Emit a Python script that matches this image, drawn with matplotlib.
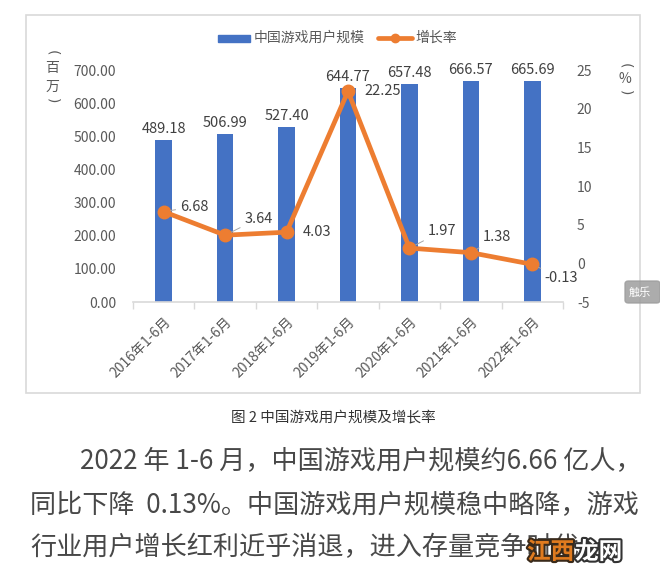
import matplotlib
matplotlib.use("Agg")
import matplotlib.pyplot as plt
from matplotlib.patches import Rectangle, FancyBboxPatch
from matplotlib.lines import Line2D
import matplotlib.patheffects as pe

plt.rcParams['font.family'] = ['Noto Sans CJK SC', 'DejaVu Sans']

categories = ["2016年1-6月", "2017年1-6月", "2018年1-6月", "2019年1-6月",
              "2020年1-6月", "2021年1-6月", "2022年1-6月"]
users = [489.18, 506.99, 527.40, 644.77, 657.48, 666.57, 665.69]
growth = [6.68, 3.64, 4.03, 22.25, 1.97, 1.38, -0.13]
left_ticks = [0, 100, 200, 300, 400, 500, 600, 700]
right_ticks = [-5, 0, 5, 10, 15, 20, 25]
caption = "图 2 中国游戏用户规模及增长率"
para_lines = ["2022 年 1-6 月，中国游戏用户规模约6.66 亿人，",
              "同比下降  0.13%。中国游戏用户规模稳中略降，游戏",
              "行业用户增长红利近乎消退，进入存量竞争时代"]

# label offsets (points) for growth labels
growth_label_offsets = [(11.5, 3.6), (13.7, 12), (11.5, 0), (11.5, 0), (13, 12), (8.6, 11), (9, -10)]
growth_leader = [True, True, False, False, True, True, True]

W, H = 660, 582
fig = plt.figure(figsize=(W/100, H/100), dpi=100)
fig.patch.set_facecolor('white')

def fx(x): return x / W
def fy(y): return 1 - y / H

# chart frame
fig.patches.append(Rectangle((fx(26), fy(393)), fx(640) - fx(26), fy(15) - fy(393),
                             transform=fig.transFigure, fill=False,
                             edgecolor='#D9D9D9', linewidth=1.2))

ax = fig.add_axes([fx(133), fy(302), fx(563) - fx(133), fy(70) - fy(302)])
ax2 = ax.twinx()

blue = '#4472C4'
orange = '#ED7D31'
txt = '#404040'
tick_c = '#595959'

x = list(range(len(categories)))
ax.bar(x, users, width=0.27, color=blue, zorder=2)
ax.set_xlim(-0.5, len(categories) - 0.5)
ax.set_ylim(0, 700)
ax.set_yticks(left_ticks)
ax.set_yticklabels([f"{v:.2f}" for v in left_ticks], fontsize=10, color=tick_c)
ax.set_xticks(x)
ax.set_xticklabels(categories, rotation=45, ha='right', rotation_mode='anchor',
                   fontsize=10, color=tick_c)
ax.tick_params(axis='x', length=0, pad=9)
ax.set_xticks([i - 0.5 for i in range(len(categories) + 1)], minor=True)
ax.tick_params(axis='x', which='minor', length=5, color='#D9D9D9', width=1)
ax.tick_params(axis='y', length=0, pad=12)
for s in ['top', 'left', 'right']:
    ax.spines[s].set_visible(False)
ax.spines['bottom'].set_color('#D9D9D9')
ax.spines['bottom'].set_linewidth(1.2)

for xi, v in zip(x, users):
    ax.annotate(f"{v:.2f}", (xi, v), xytext=(0, 3), textcoords='offset points',
                ha='center', va='bottom', fontsize=10.5, color=txt)

ax2.plot(x, growth, color=orange, linewidth=3.4, marker='o', markersize=9,
         zorder=3, solid_capstyle='round')
ax2.set_ylim(-5, 25)
ax2.set_yticks(right_ticks)
ax2.set_yticklabels([str(v) for v in right_ticks], fontsize=10, color=tick_c)
ax2.tick_params(axis='y', length=0, pad=10)
for s in ['top', 'left', 'right', 'bottom']:
    ax2.spines[s].set_visible(False)

for xi, v, off, ld in zip(x, growth, growth_label_offsets, growth_leader):
    kw = {}
    if ld:
        kw['arrowprops'] = dict(arrowstyle='-', color='#A6A6A6', lw=0.7,
                                shrinkA=1, shrinkB=5)
    ax2.annotate(f"{v:.2f}", (xi, v), xytext=off, textcoords='offset points',
                 ha='left', va='center', fontsize=10.5, color=txt, zorder=4, **kw)

# axis unit labels
def vlabel(xc, ys, items):
    for yy, it in zip(ys, items):
        if it in '()':
            fig.text(fx(xc), fy(yy), it, rotation=-90, ha='center', va='center',
                     fontsize=10, color=tick_c, family='DejaVu Sans')
        else:
            fig.text(fx(xc), fy(yy), it, ha='center', va='center',
                     fontsize=10, color=tick_c)

vlabel(52, [53, 68, 87, 101], ['(', '百', '万', ')'])
vlabel(625, [66, 79, 93], ['(', '%', ')'])

# legend
fig.patches.append(Rectangle((fx(218), fy(42)), fx(250) - fx(218), fy(35) - fy(42),
                             transform=fig.transFigure, color=blue))
fig.text(fx(254), fy(38), "中国游戏用户规模", ha='left', va='center', fontsize=10, color=tick_c)
fig.lines.append(Line2D([fx(378), fx(412)], [fy(38), fy(38)], transform=fig.transFigure,
                        color=orange, linewidth=3.4, solid_capstyle='round'))
fig.lines.append(Line2D([fx(395)], [fy(38)], transform=fig.transFigure,
                        color=orange, marker='o', markersize=6, linestyle='none'))
fig.text(fx(415), fy(38), "增长率", ha='left', va='center', fontsize=10, color=tick_c)

# caption and paragraph
fig.text(fx(333), fy(417), caption, ha='center', va='center', fontsize=10.5, color='#333333')
para_x = [80, 30, 30]
para_y = [462, 506, 548]
for s, px, py in zip(para_lines, para_x, para_y):
    fig.text(fx(px), fy(py), s, ha='left', va='center', fontsize=18.8, color='#484848')

# watermarks
fig.text(fx(527), fy(552), "江西", ha='left', va='center', fontsize=17,
         color='#E07B1F', fontweight='bold', zorder=10,
         path_effects=[pe.withStroke(linewidth=3, foreground='#3a2a1a')])
fig.text(fx(575), fy(552), "龙网", ha='left', va='center', fontsize=17,
         color='white', fontweight='bold', zorder=10,
         path_effects=[pe.withStroke(linewidth=3, foreground='#333333')])
fig.patches.append(FancyBboxPatch((fx(625), fy(303)), fx(660) - fx(625), fy(281) - fy(303),
                                  boxstyle='round,pad=0,rounding_size=0.005',
                                  transform=fig.transFigure, color='#9E9E9E', alpha=0.85))
fig.text(fx(640), fy(292), "触乐", ha='center', va='center', fontsize=8, color='white')

fig.savefig("out.png", dpi=100)
